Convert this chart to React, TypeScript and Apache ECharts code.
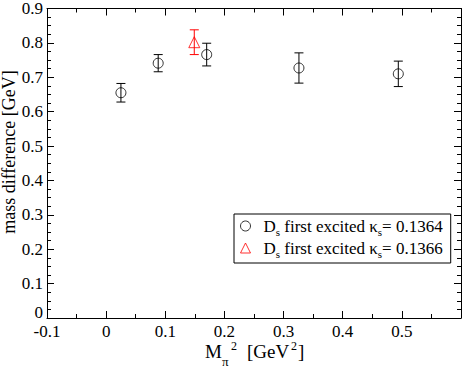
import React, { useEffect, useRef } from "react";
import * as echarts from "echarts";

const FONT = "Liberation Serif";

// series 1: kappa_s = 0.1364 (black circles)
const blackX = [0.025, 0.088, 0.17, 0.326, 0.494];
const blackY = [0.655, 0.741, 0.766, 0.727, 0.71];
const blackErr = [0.027, 0.025, 0.033, 0.044, 0.037];

// series 2: kappa_s = 0.1366 (red triangle)
const redX = [0.149];
const redY = [0.802];
const redErr = [0.036];

const xMin = -0.1;
const xMax = 0.6;
const yMin = 0;
const yMax = 0.9;

const seriesNames = ["k1364", "k1366"];
const legendLabels: Record<string, string> = {
  k1364: "D{sub|s} first excited κ{sub|s}= 0.1364",
  k1366: "D{sub|s} first excited κ{sub|s}= 0.1366",
};

function errorBarSeries(xs: number[], ys: number[], es: number[], color: string) {
  return {
    type: "custom",
    xAxisIndex: 0,
    yAxisIndex: 0,
    silent: true,
    encode: { x: 0, y: 1 },
    data: xs.map((x, i) => [x, ys[i], es[i]]),
    renderItem: (params: any, api: any) => {
      const x = api.value(0);
      const y = api.value(1);
      const e = api.value(2);
      const top = api.coord([x, y + e]);
      const bot = api.coord([x, y - e]);
      const hw = 4.5;
      const style = { stroke: color, lineWidth: 1 };
      return {
        type: "group",
        children: [
          { type: "line", shape: { x1: top[0], y1: top[1], x2: bot[0], y2: bot[1] }, style },
          { type: "line", shape: { x1: top[0] - hw, y1: top[1], x2: top[0] + hw, y2: top[1] }, style },
          { type: "line", shape: { x1: bot[0] - hw, y1: bot[1], x2: bot[0] + hw, y2: bot[1] }, style },
        ],
      };
    },
    z: 2,
  };
}

function makeAxis(kind: "x" | "y", secondary: boolean) {
  const isX = kind === "x";
  return {
    type: "value",
    min: isX ? xMin : yMin,
    max: isX ? xMax : yMax,
    interval: 0.1,
    position: isX ? (secondary ? "top" : "bottom") : secondary ? "right" : "left",
    axisLine: { show: true, onZero: false, lineStyle: { color: "#000", width: 1 } },
    axisTick: { show: true, inside: true, length: 7, lineStyle: { color: "#000", width: 1 } },
    minorTick: {
      show: true,
      splitNumber: isX ? 2 : 4,
      length: 4,
      lineStyle: { color: "#000", width: 1 },
    },
    splitLine: { show: false },
    minorSplitLine: { show: false },
    axisLabel: {
      show: !secondary,
      fontFamily: FONT,
      fontSize: 17,
      color: "#000",
      margin: isX ? 6 : 4,
      lineHeight: isX ? 14 : undefined,
      showMaxLabel: isX ? false : true,
      formatter: isX
        ? undefined
        : (v: number) => (Math.abs(v) < 1e-9 ? "{z|0}" : String(Math.round(v * 10) / 10)),
      rich: isX
        ? undefined
        : {
            z: { fontFamily: FONT, fontSize: 17, color: "#000", padding: [0, 0, 12, 0] },
          },
    },
  };
}

export default function App() {
  const ref = useRef<HTMLDivElement>(null);
  useEffect(() => {
    if (!ref.current) return;
    const chart = echarts.init(ref.current, null, { renderer: "svg" });
    const option: any = {
      animation: false,
      backgroundColor: "#fff",
      grid: { left: 47, right: 2, top: 6, bottom: 51, containLabel: false },
      xAxis: [makeAxis("x", false), makeAxis("x", true)],
      yAxis: [makeAxis("y", false), makeAxis("y", true)],
      legend: {
        orient: "vertical",
        left: 234,
        top: 214,
        data: [
          {
            name: seriesNames[0],
            icon: "circle",
            itemStyle: { color: "transparent", borderColor: "#000", borderWidth: 1 },
          },
          {
            name: seriesNames[1],
            icon: "triangle",
            itemStyle: { color: "transparent", borderColor: "#ff0000", borderWidth: 1 },
          },
        ],
        formatter: (name: string) => legendLabels[name] || name,
        borderColor: "#000",
        borderWidth: 1,
        borderRadius: 0,
        padding: [1, 8, 4, 6],
        itemWidth: 10,
        itemHeight: 10,
        itemGap: 0,
        selectedMode: false,
        textStyle: {
          fontFamily: FONT,
          fontSize: 17,
          color: "#000",
          lineHeight: 22,
          padding: [0, 0, 0, 8],
          rich: {
            sub: {
              fontFamily: FONT,
              fontSize: 11,
              color: "#000",
              lineHeight: 11,
              padding: [7, 0, 0, 0],
              verticalAlign: "bottom",
            },
          },
        },
      },
      graphic: [
        {
          type: "text",
          x: 9,
          y: 152,
          rotation: Math.PI / 2,
          style: {
            text: "mass difference [GeV]",
            fontFamily: FONT,
            fontSize: 18,
            fill: "#000",
            align: "center",
            verticalAlign: "middle",
          },
        },
        {
          type: "group",
          children: [
            { type: "text", x: 205, y: 351, style: { text: "M", fontFamily: FONT, fontSize: 19, fill: "#000", verticalAlign: "middle" } },
            { type: "text", x: 222, y: 361.5, style: { text: "π", fontFamily: FONT, fontSize: 13, fill: "#000", verticalAlign: "middle" } },
            { type: "text", x: 231, y: 345.5, style: { text: "2", fontFamily: FONT, fontSize: 12, fill: "#000", verticalAlign: "middle" } },
            { type: "text", x: 247, y: 351, style: { text: "[GeV", fontFamily: FONT, fontSize: 19, fill: "#000", verticalAlign: "middle" } },
            { type: "text", x: 291, y: 345.5, style: { text: "2", fontFamily: FONT, fontSize: 12, fill: "#000", verticalAlign: "middle" } },
            { type: "text", x: 298, y: 351, style: { text: "]", fontFamily: FONT, fontSize: 19, fill: "#000", verticalAlign: "middle" } },
          ],
        },
      ],
      series: [
        errorBarSeries(blackX, blackY, blackErr, "#000"),
        errorBarSeries(redX, redY, redErr, "#ff0000"),
        {
          name: seriesNames[0],
          type: "scatter",
          symbol: "circle",
          symbolSize: 10,
          itemStyle: { color: "transparent", borderColor: "#000", borderWidth: 1 },
          data: blackX.map((x, i) => [x, blackY[i]]),
          z: 3,
        },
        {
          name: seriesNames[1],
          type: "scatter",
          symbol: "triangle",
          symbolSize: 11,
          itemStyle: { color: "transparent", borderColor: "#ff0000", borderWidth: 1 },
          data: redX.map((x, i) => [x, redY[i]]),
          z: 3,
        },
      ],
    };
    chart.setOption(option);
    return () => chart.dispose();
  }, []);
  return (
    <div
      ref={ref}
      style={{ position: "fixed", left: 0, top: 0, width: 463, height: 369, background: "#fff" }}
    />
  );
}
